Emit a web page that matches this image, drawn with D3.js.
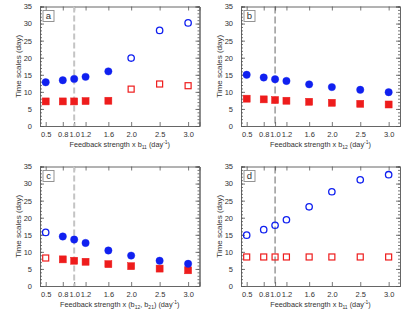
<!DOCTYPE html>
<html lang="en">
<head>
<meta charset="utf-8">
<title>Time scales vs feedback strength</title>
<script src="https://cdn.jsdelivr.net/npm/d3@7"></script>
<style>
  body { margin: 0; background: #fff; }
  svg text { font-family: "Liberation Sans", Arial, sans-serif; fill: #333; }
</style>
</head>
<body>
<div id="chart"></div>
<script>
  // data
  const xVals = [0.5, 0.8, 1.0, 1.2, 1.6, 2.0, 2.5, 3.0];
  const yTicks = [0, 5, 10, 15, 20, 25, 30, 35];

  const blueA = [12.8, 13.4, 13.8, 14.4, 16.0, 19.9, 28.0, 30.2];
  const redA  = [7.2, 7.2, 7.2, 7.3, 7.4, 10.8, 12.3, 11.8];
  const openA = [0, 0, 0, 0, 0, 1, 1, 1];

  const blueB = [15.0, 14.2, 13.7, 13.2, 12.2, 11.4, 10.6, 9.9];
  const redB  = [8.0, 7.8, 7.6, 7.4, 7.1, 6.8, 6.5, 6.3];
  const openB = [0, 0, 0, 0, 0, 0, 0, 0];

  const blueC = [15.7, 14.5, 13.6, 12.6, 10.4, 8.9, 7.4, 6.5];
  const redC  = [8.2, 7.8, 7.4, 7.1, 6.4, 5.8, 5.1, 4.6];
  const openC = [1, 0, 0, 0, 0, 0, 0, 0];

  const blueD = [14.9, 16.5, 17.8, 19.4, 23.2, 27.6, 31.1, 32.6];
  const redD  = [8.5, 8.5, 8.5, 8.5, 8.5, 8.5, 8.5, 8.5];
  const openD = [1, 1, 1, 1, 1, 1, 1, 1];

  const panelLetters = ['a', 'b', 'c', 'd'];
  const subLabels = ['11', '12', null, '11'];

  const width = 417, height = 315;
  const blue = '#1020f0', red = '#ee1c1c';

  const svg = d3.select('#chart').append('svg')
    .attr('width', width).attr('height', height);

  const panels = [
    { blue: blueA, red: redA, open: openA, x0: 40, x1: 199.5, y0: 6.5, y1: 126, dash: 'light' },
    { blue: blueB, red: redB, open: openB, x0: 241, x1: 400, y0: 6.5, y1: 126, dash: 'dark' },
    { blue: blueC, red: redC, open: openC, x0: 40, x1: 199.5, y0: 166.5, y1: 286, dash: 'light' },
    { blue: blueD, red: redD, open: openD, x0: 241, x1: 400, y0: 166.5, y1: 286, dash: 'dark' }
  ];

  panels.forEach((p, pi) => {
    const x = d3.scaleLinear().domain([0.4, 3.2]).range([p.x0, p.x1]);
    const y = d3.scaleLinear().domain([0, 35]).range([p.y1, p.y0]);
    const g = svg.append('g');

    // axes: bottom/left labelled, top/right mirrored, ticks inward
    const fmt = d3.format('.1f');
    const bottom = d3.axisBottom(x).tickValues(xVals).tickSize(-4).tickPadding(6).tickFormat(fmt);
    const top = d3.axisTop(x).tickValues(xVals).tickSize(-4).tickFormat('');
    const left = d3.axisLeft(y).tickValues(yTicks).tickSize(-4).tickPadding(8);
    const leftMinor = d3.axisLeft(y).tickValues(d3.range(0, 36, 1)).tickSize(-2).tickFormat('');
    const right = d3.axisRight(y).tickValues(yTicks).tickSize(-4).tickFormat('');
    const rightMinor = d3.axisRight(y).tickValues(d3.range(0, 36, 1)).tickSize(-2).tickFormat('');

    const axes = [
      [bottom, `translate(0,${p.y1})`],
      [top, `translate(0,${p.y0})`],
      [left, `translate(${p.x0},0)`],
      [leftMinor, `translate(${p.x0},0)`],
      [right, `translate(${p.x1},0)`],
      [rightMinor, `translate(${p.x1},0)`]
    ];
    axes.forEach(([ax, tr]) => {
      const a = g.append('g').attr('transform', tr).call(ax);
      a.select('.domain').attr('stroke', '#666').attr('stroke-width', 1);
      a.selectAll('.tick line').attr('stroke', '#555').attr('stroke-width', 0.8);
      a.selectAll('.tick text').attr('font-size', 7.5).style('fill', '#333');
    });

    // dashed reference line at x = 1.0
    g.append('line')
      .attr('x1', x(1.0)).attr('x2', x(1.0))
      .attr('y1', p.y0).attr('y2', p.y1)
      .attr('stroke', p.dash === 'light' ? '#c4c4c4' : '#555')
      .attr('stroke-width', p.dash === 'light' ? 2 : 0.9)
      .attr('stroke-dasharray', p.dash === 'light' ? '6,3' : '7,3');

    // red squares
    const sq = 7;
    g.selectAll('rect.red').data(p.red).enter().append('rect')
      .attr('class', 'red')
      .attr('x', (d, i) => x(xVals[i]) - (p.open[i] ? sq - 1 : sq) / 2)
      .attr('y', (d, i) => y(d) - (p.open[i] ? sq - 1 : sq) / 2)
      .attr('width', (d, i) => p.open[i] ? sq - 1 : sq)
      .attr('height', (d, i) => p.open[i] ? sq - 1 : sq)
      .attr('fill', (d, i) => p.open[i] ? 'none' : red)
      .attr('stroke', red)
      .attr('stroke-width', (d, i) => p.open[i] ? 1.2 : 0.5);

    // blue circles
    g.selectAll('circle.blue').data(p.blue).enter().append('circle')
      .attr('class', 'blue')
      .attr('cx', (d, i) => x(xVals[i]))
      .attr('cy', d => y(d))
      .attr('r', (d, i) => p.open[i] ? 3.2 : 3.7)
      .attr('fill', (d, i) => p.open[i] ? 'none' : blue)
      .attr('stroke', blue)
      .attr('stroke-width', (d, i) => p.open[i] ? 1.3 : 0.4);

    // panel letter box
    g.append('rect')
      .attr('x', p.x0 + 3).attr('y', p.y0 + 4)
      .attr('width', 11).attr('height', 11)
      .attr('fill', '#fff').attr('stroke', '#888').attr('stroke-width', 0.9);
    g.append('text')
      .attr('x', p.x0 + 8.5).attr('y', p.y0 + 12.8)
      .attr('text-anchor', 'middle').attr('font-size', 9.5)
      .text(panelLetters[pi]);

    // y label
    g.append('text')
      .attr('transform', `translate(${p.x0 - 19},${(p.y0 + p.y1) / 2}) rotate(-90)`)
      .attr('text-anchor', 'middle').attr('font-size', 8)
      .text('Time scales (day)');

    // x label with subscripts / superscript
    const xl = g.append('text')
      .attr('x', (p.x0 + p.x1) / 2).attr('y', p.y1 + 21)
      .attr('text-anchor', 'middle').attr('font-size', 7.3);
    if (subLabels[pi]) {
      xl.append('tspan').text('Feedback strength x b');
      xl.append('tspan').attr('font-size', 5).attr('dy', 2).text(subLabels[pi]);
      xl.append('tspan').attr('dy', -2).text(' (day');
    } else {
      xl.append('tspan').text('Feedback strength x (b');
      xl.append('tspan').attr('font-size', 5).attr('dy', 2).text('12');
      xl.append('tspan').attr('dy', -2).text(', b');
      xl.append('tspan').attr('font-size', 5).attr('dy', 2).text('21');
      xl.append('tspan').attr('dy', -2).text(') (day');
    }
    xl.append('tspan').attr('font-size', 5).attr('dy', -3).text('-1');
    xl.append('tspan').attr('dy', 3).text(')');
  });
</script>
</body>
</html>
